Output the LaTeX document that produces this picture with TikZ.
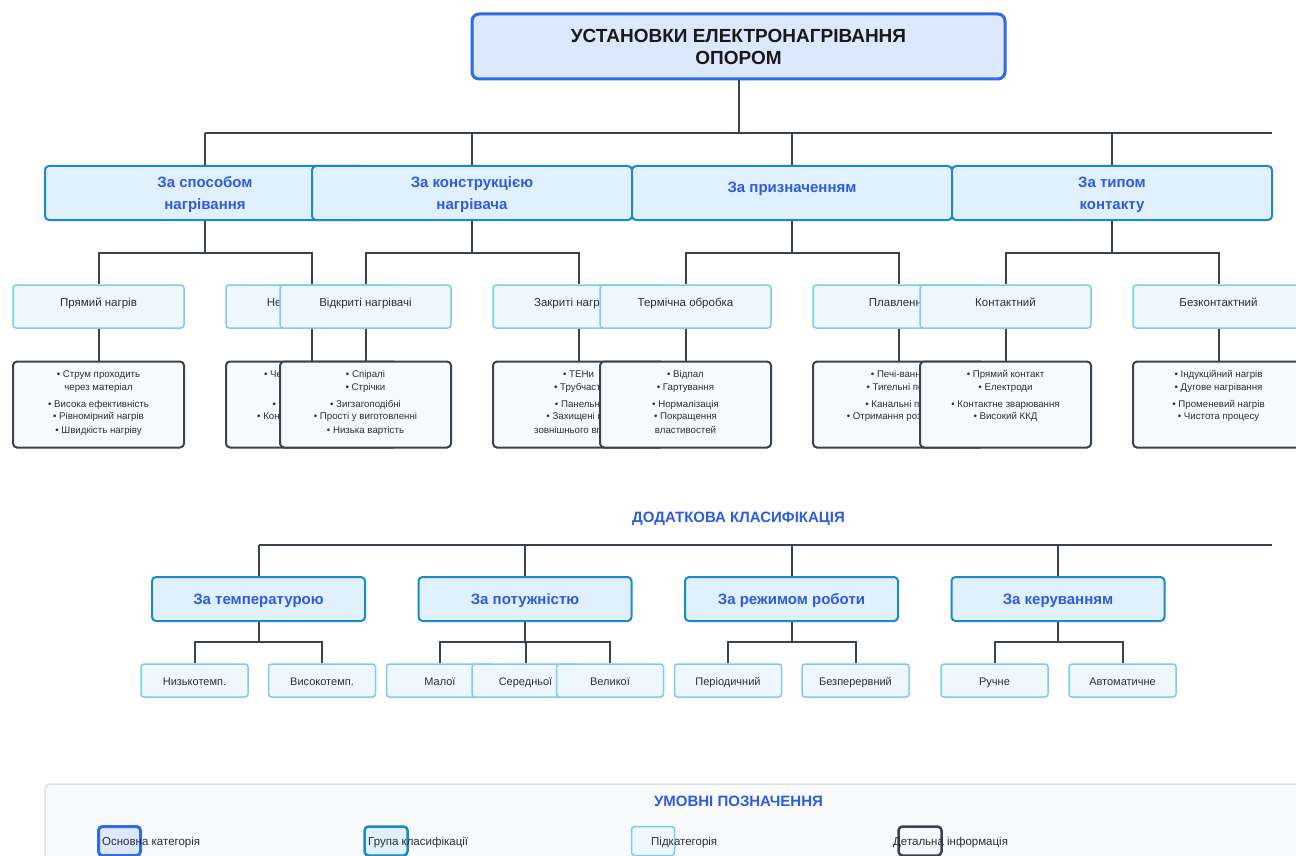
\documentclass[tikz,border=0pt]{standalone}
\usepackage{fontspec}
\setmainfont{Liberation Sans}
\definecolor{titleFill}{HTML}{DBE8FD}
\definecolor{titleLine}{HTML}{2F6BE6}
\definecolor{grpFill}{HTML}{E0F0FC}
\definecolor{grpLine}{HTML}{1A8AC8}
\definecolor{grpText}{HTML}{2E5CE0}
\definecolor{subFill}{HTML}{EEF7FE}
\definecolor{subLine}{HTML}{7CCBF2}
\definecolor{detFill}{HTML}{F7F9FC}
\definecolor{detLine}{HTML}{3A4252}
\definecolor{wireCol}{HTML}{3A4252}
\definecolor{legFill}{HTML}{F7F9FB}
\definecolor{legLine}{HTML}{DFE3E8}
\definecolor{txtDark}{HTML}{2A2E36}

% text lines of a detail box, placed below the box top
\newcommand\detaillines[2]{%
  \foreach \t/\dy [count=\k] in {#2}{%
    \node[dtxt] (#1-\k) at ([yshift=-\dy pt]#1.north) {\t};}}

\begin{document}
\begin{tikzpicture}[x=1pt,y=-1pt,
  wire/.style={draw=wireCol, line width=2pt},
  titlebox/.style={draw=titleLine, fill=titleFill, line width=3pt, rounded corners=7pt,
    minimum width=533pt, minimum height=65pt, inner sep=0pt},
  grpbox/.style={draw=grpLine, fill=grpFill, line width=2pt, rounded corners=4pt,
    minimum width=320pt, minimum height=54pt, inner sep=0pt},
  subbox/.style={draw=subLine, fill=subFill, line width=1.5pt, rounded corners=3pt,
    minimum width=171pt, minimum height=43pt, inner sep=0pt},
  detbox/.style={draw=detLine, fill=detFill, line width=2pt, rounded corners=4pt,
    minimum width=171pt, minimum height=86pt, inner sep=0pt},
  addbox/.style={grpbox, minimum width=213pt, minimum height=44pt},
  leafbox/.style={subbox, minimum width=107pt, minimum height=33pt},
  ttltxt/.style={font=\fontsize{19}{22}\selectfont\bfseries, text=black!90, align=center},
  grptxt/.style={font=\fontsize{15}{22}\selectfont\bfseries, text=grpText, align=center, inner sep=0pt},
  subtxt/.style={font=\fontsize{11.5}{14}\selectfont, text=txtDark, inner sep=0pt, text height=8pt, text depth=2.5pt},
  dtxt/.style={font=\fontsize{9.7}{12}\selectfont, text=txtDark, inner sep=0pt, text height=7pt, text depth=2pt},
  addtxt/.style={font=\fontsize{15}{18}\selectfont\bfseries, text=grpText, inner sep=0pt, text height=10.5pt, text depth=3pt},
  leaftxt/.style={font=\fontsize{11}{13}\selectfont, text=txtDark, inner sep=0pt, text height=8pt, text depth=2.5pt},
  headtxt/.style={font=\fontsize{15}{17}\selectfont\bfseries, text=grpText, inner sep=0pt},
  legtxt/.style={font=\fontsize{11.5}{13}\selectfont, text=txtDark, inner sep=0pt, anchor=west},
]
\clip (0,0) rectangle (1296,856);
\fill[white] (0,0) rectangle (1296,856);

% ---------- main title ----------
\node[titlebox, ttltxt] (title) at (738.5,46.5) {УСТАНОВКИ ЕЛЕКТРОНАГРІВАННЯ\\ОПОРОМ};

% ---------- main classification groups ----------
\node[grpbox] (g1) at (205,193) {};
\node[grptxt] (g1t) at (205,195) {За способом\\нагрівання};
\node[grpbox] (g2) at (472,193) {};
\node[grptxt] (g2t) at (472,195) {За конструкцією\\нагрівача};
\node[grpbox] (g3) at (792,193) {};
\node[grptxt] (g3t) at (792,189) {За призначенням};
\node[grpbox] (g4) at (1112,193) {};
\node[grptxt] (g4t) at (1112,195) {За типом\\контакту};

% ---------- subcategories and details ----------
\node[subbox] (s11) at (98.5,306.5) {};
\node[subtxt] (s11t) at (98.5,304) {Прямий нагрів};
\node[detbox] (d11) at (98.5,404.5) {};
\detaillines{d11}{• Струм проходить/14, через матеріал/27, • Висока ефективність/44, • Рівномірний нагрів/56, • Швидкість нагріву/70}

\node[subbox] (s12) at (311.5,306.5) {};
\node[subtxt] (s12t) at (311.5,304) {Непрямий нагрів};
\node[detbox] (d12) at (311.5,404.5) {};
\detaillines{d12}{• Через нагрівальний/14, елемент/27, • Універсальність/44, • Контроль температури/56}

\node[subbox] (s21) at (365.5,306.5) {};
\node[subtxt] (s21t) at (365.5,304) {Відкриті нагрівачі};
\node[detbox] (d21) at (365.5,404.5) {};
\detaillines{d21}{• Спіралі/14, • Стрічки/27, • Зигзагоподібні/44, • Прості у виготовленні/56, • Низька вартість/70}

\node[subbox] (s22) at (578.5,306.5) {};
\node[subtxt] (s22t) at (578.5,304) {Закриті нагрівачі};
\node[detbox] (d22) at (578.5,404.5) {};
\detaillines{d22}{• ТЕНи/14, • Трубчасті/27, • Панельні/44, • Захищені від/56, зовнішнього впливу/70}

\node[subbox] (s31) at (685.5,306.5) {};
\node[subtxt] (s31t) at (685.5,304) {Термічна обробка};
\node[detbox] (d31) at (685.5,404.5) {};
\detaillines{d31}{• Відпал/14, • Гартування/27, • Нормалізація/44, • Покращення/56, властивостей/70}

\node[subbox] (s32) at (898.5,306.5) {};
\node[subtxt] (s32t) at (898.5,304) {Плавлення};
\node[detbox] (d32) at (898.5,404.5) {};
\detaillines{d32}{• Печі-ванни/14, • Тигельні печі/27, • Канальні печі/44, • Отримання розплавів/56}

\node[subbox] (s41) at (1005.5,306.5) {};
\node[subtxt] (s41t) at (1005.5,304) {Контактний};
\node[detbox] (d41) at (1005.5,404.5) {};
\detaillines{d41}{• Прямий контакт/14, • Електроди/27, • Контактне зварювання/44, • Високий ККД/56}

\node[subbox] (s42) at (1218.5,306.5) {};
\node[subtxt] (s42t) at (1218.5,304) {Безконтактний};
\node[detbox] (d42) at (1218.5,404.5) {};
\detaillines{d42}{• Індукційний нагрів/14, • Дугове нагрівання/27, • Променевий нагрів/44, • Чистота процесу/56}

% ---------- connectors of the main tree ----------
\coordinate (busTop) at (1272,133);
\draw[wire] (title.south) -- (title.south |- busTop);
\draw[wire] (g1.north |- busTop) -- (busTop);
\foreach \g in {g1,g2,g3,g4} \draw[wire] (\g.north |- busTop) -- (\g.north);
\coordinate (busSub) at (0,252.5);
\foreach \i in {1,2,3,4}{
  \draw[wire] (g\i.south) -- (g\i.south |- busSub);
  \draw[wire] (s\i1.north) -- (s\i1.north |- busSub) -- (s\i2.north |- busSub) -- (s\i2.north);
  \draw[wire] (s\i1.south) -- (d\i1.north);
  \draw[wire] (s\i2.south) -- (d\i2.north);
}

% ---------- additional classification ----------
\node[headtxt] (addhead) at (738.5,519) {ДОДАТКОВА КЛАСИФІКАЦІЯ};

\node[addbox] (a1) at (258.5,599) {};
\node[addtxt] (a1t) at (258.5,601) {За температурою};
\node[addbox] (a2) at (525,599) {};
\node[addtxt] (a2t) at (525,601) {За потужністю};
\node[addbox] (a3) at (791.5,599) {};
\node[addtxt] (a3t) at (791.5,601) {За режимом роботи};
\node[addbox] (a4) at (1058,599) {};
\node[addtxt] (a4t) at (1058,601) {За керуванням};

\node[leafbox] (l11) at (194.5,680.5) {};
\node[leaftxt] (l11t) at (194.5,683) {Низькотемп.};
\node[leafbox] (l12) at (322,680.5) {};
\node[leaftxt] (l12t) at (322,683) {Високотемп.};

\node[leafbox] (l21) at (440,680.5) {};
\node[leaftxt] (l21t) at (440,683) {Малої};
\node[leafbox] (l22) at (525.5,680.5) {};
\node[leaftxt] (l22t) at (525.5,683) {Середньої};
\node[leafbox] (l23) at (610,680.5) {};
\node[leaftxt] (l23t) at (610,683) {Великої};

\node[leafbox] (l31) at (728,680.5) {};
\node[leaftxt] (l31t) at (728,683) {Періодичний};
\node[leafbox] (l32) at (855.5,680.5) {};
\node[leaftxt] (l32t) at (855.5,683) {Безперервний};

\node[leafbox] (l41) at (994.5,680.5) {};
\node[leaftxt] (l41t) at (994.5,683) {Ручне};
\node[leafbox] (l42) at (1122.5,680.5) {};
\node[leaftxt] (l42t) at (1122.5,683) {Автоматичне};

\coordinate (busAdd) at (1272,545);
\draw[wire] (a1.north |- busAdd) -- (busAdd);
\foreach \a in {a1,a2,a3,a4} \draw[wire] (\a.north |- busAdd) -- (\a.north);
\coordinate (busLeaf) at (0,642);
\foreach \a in {a1,a2,a3,a4} \draw[wire] (\a.south) -- (\a.south |- busLeaf);
\draw[wire] (l11.north) -- (l11.north |- busLeaf) -- (l12.north |- busLeaf) -- (l12.north);
\draw[wire] (l21.north) -- (l21.north |- busLeaf) -- (l23.north |- busLeaf) -- (l23.north);
\draw[wire] (l22.north |- busLeaf) -- (l22.north);
\draw[wire] (l31.north) -- (l31.north |- busLeaf) -- (l32.north |- busLeaf) -- (l32.north);
\draw[wire] (l41.north) -- (l41.north |- busLeaf) -- (l42.north |- busLeaf) -- (l42.north);

% ---------- legend ----------
\draw[draw=legLine, fill=legFill, line width=1.5pt, rounded corners=6pt] (45,784) rectangle (1320,880);
\node[headtxt] (leghead) at (738.5,801) {УМОВНІ ПОЗНАЧЕННЯ};
\node[titlebox, minimum width=42pt, minimum height=29pt, rounded corners=4pt] (k1) at (119.5,841) {};
\node[legtxt] (k1t) at (102,843) {Основна категорія};
\node[grpbox, minimum width=43pt, minimum height=29pt, line width=2.5pt] (k2) at (386,841) {};
\node[legtxt] (k2t) at (368,843) {Група класифікації};
\node[subbox, minimum width=43pt, minimum height=29pt] (k3) at (653,841) {};
\node[legtxt] (k3t) at (651,843) {Підкатегорія};
\node[detbox, minimum width=43pt, minimum height=29pt, line width=2.5pt] (k4) at (920,841) {};
\node[legtxt] (k4t) at (893,843) {Детальна інформація};
\end{tikzpicture}
\end{document}
